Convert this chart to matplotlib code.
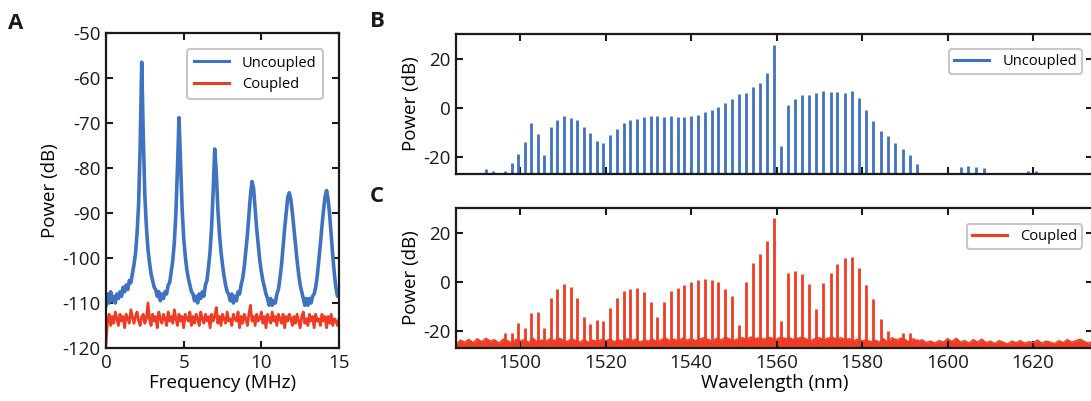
import numpy as np
import matplotlib
matplotlib.use("Agg")
import matplotlib.pyplot as plt
from matplotlib.lines import Line2D

plt.rcParams['font.family'] = ['Open Sans', 'DejaVu Sans']
plt.rcParams['axes.unicode_minus'] = False

BLUE = '#3F72C0'
RED = '#F03C24'

# ---------------- Panel A data (RF spectrum) ----------------
freq_a = [round(0.1 * i, 1) for i in range(151)]
uncoupled_a = [
    -110.5, -108.0, -110.0, -107.5, -109.5, -108.5, -110.0, -108.0, -109.0, -107.5,
    -108.5, -106.5, -107.5, -106.0, -107.0, -105.0, -105.5, -103.5, -101.5, -99.0,
    -94.5, -88.0, -75.0, -56.5, -73.0, -86.0, -93.0, -98.0, -101.0, -103.5,
    -105.0, -106.5, -107.0, -108.5, -107.5, -109.5, -108.0, -109.0, -107.5, -108.0,
    -106.0, -105.5, -103.0, -100.5, -96.5, -90.0, -80.0, -68.8, -79.0, -89.0,
    -95.5, -99.5, -102.5, -104.5, -106.0, -107.5, -108.0, -109.5, -108.5, -110.0,
    -108.0, -109.0, -107.5, -108.5, -106.0, -105.0, -102.0, -98.5, -93.0, -85.0,
    -75.8, -81.0, -89.0, -94.5, -98.5, -101.5, -104.0, -106.0, -107.5, -108.0,
    -109.5, -108.0, -110.0, -108.5, -109.5, -107.5, -108.0, -106.0, -104.5, -102.0,
    -98.5, -95.0, -90.5, -86.0, -83.0, -84.5, -89.0, -93.5, -97.0, -100.5,
    -103.0, -105.0, -106.5, -108.0, -109.0, -110.5, -109.0, -110.5, -109.5, -110.0,
    -108.0, -107.0, -104.5, -101.5, -97.5, -93.5, -90.0, -86.5, -85.5, -87.0,
    -90.0, -93.5, -97.0, -100.5, -103.5, -106.0, -107.5, -109.0, -110.5, -109.0,
    -110.5, -109.0, -110.0, -108.5, -108.0, -106.5, -104.0, -100.5, -97.0, -93.0,
    -89.5, -86.5, -85.0, -87.0, -90.5, -95.0, -99.5, -103.5, -106.5, -108.5,
    -108.0,
]
coupled_a = [
    -119.0, -114.0, -112.5, -115.0, -113.0, -114.5, -112.0, -113.5, -115.0, -112.5,
    -114.0, -113.0, -115.5, -112.5, -113.5, -114.5, -111.5, -113.0, -114.5, -113.0,
    -112.0, -114.0, -115.0, -113.0, -112.5, -114.5, -113.5, -110.0, -113.5, -115.0,
    -112.5, -114.0, -113.0, -115.5, -112.0, -113.5, -114.5, -112.5, -113.5, -115.0,
    -112.0, -114.0, -113.0, -114.5, -111.5, -113.5, -115.0, -112.5, -114.0, -113.0,
    -115.5, -112.5, -113.5, -114.0, -112.0, -115.0, -113.0, -114.5, -112.5, -113.5,
    -115.0, -112.0, -113.5, -114.5, -112.5, -114.0, -113.0, -115.5, -112.5, -114.0,
    -113.0, -111.0, -114.5, -113.0, -115.0, -112.5, -113.5, -114.5, -112.0, -114.0,
    -113.5, -115.0, -112.5, -113.5, -114.0, -112.0, -115.5, -113.0, -114.5, -112.5,
    -113.5, -115.0, -112.5, -110.5, -114.0, -113.0, -115.0, -112.5, -114.0, -113.5,
    -112.0, -114.5, -113.0, -115.5, -112.5, -113.5, -114.5, -112.0, -114.0, -113.0,
    -115.0, -112.5, -113.5, -114.5, -112.5, -115.5, -113.0, -114.0, -112.5, -113.5,
    -115.0, -113.0, -114.5, -112.5, -114.0, -115.5, -113.0, -112.0, -114.5, -113.5,
    -115.0, -112.5, -114.0, -113.0, -115.5, -112.5, -114.0, -113.5, -115.0, -112.5,
    -114.0, -113.0, -115.5, -113.0, -114.5, -112.5, -115.0, -113.5, -114.0, -115.0,
    -113.5,
]

# ---------------- Panel B data (uncoupled optical spectrum) ----------------
wl_unc = [
    1490.6, 1492.1, 1493.6, 1496.5, 1498.1, 1499.6, 1501.1, 1502.6, 1504.2, 1505.7,
    1507.2, 1508.7, 1510.3, 1511.8, 1513.4, 1514.9, 1516.4, 1518.0, 1519.5, 1521.1,
    1522.7, 1524.2, 1525.8, 1527.3, 1528.9, 1530.5, 1532.1, 1533.7, 1535.2, 1536.9,
    1538.4, 1540.0, 1541.6, 1543.2, 1544.8, 1546.4, 1548.0, 1549.6, 1551.2, 1552.9,
    1554.5, 1556.2, 1557.7, 1559.4, 1561.0, 1562.7, 1564.3, 1565.9, 1567.6, 1569.3,
    1570.9, 1572.6, 1574.2, 1575.9, 1577.6, 1579.3, 1581.0, 1582.6, 1584.3, 1586.1,
    1587.8, 1589.5, 1591.2, 1592.8, 1601.4, 1603.2, 1604.8, 1606.6, 1608.4, 1618.9,
    1620.7,
]
p_unc = [
    -26.4, -24.8, -25.6, -25.9, -22.5, -18.9, -13.9, -6.3, -10.8, -19.1,
    -7.8, -4.9, -3.5, -4.2, -5.1, -7.8, -10.5, -13.6, -14.4, -11.1,
    -8.6, -6.2, -5.1, -4.6, -3.8, -3.5, -3.4, -3.8, -3.5, -3.6,
    -3.8, -3.3, -2.8, -1.8, -1.0, 0.4, 2.0, 3.5, 5.4, 6.1,
    8.3, 10.2, 14.3, 25.6, -15.5, 0.9, 3.6, 5.0, 5.2, 5.9,
    6.7, 6.3, 6.3, 6.1, 6.7, 3.8, -0.8, -5.4, -9.4, -11.6,
    -14.2, -16.7, -19.1, -23.0, -26.5, -24.3, -23.9, -24.0, -24.7, -25.6,
    -25.9,
]

# ---------------- Panel C data (coupled optical spectrum) ----------------
wl_cpl = [
    1496.5, 1498.1, 1499.6, 1501.1, 1502.6, 1504.2, 1505.7, 1507.2, 1508.7, 1510.3,
    1511.8, 1513.4, 1514.9, 1516.4, 1518.0, 1519.5, 1521.1, 1522.7, 1524.2, 1525.8,
    1527.3, 1528.9, 1530.5, 1532.1, 1533.7, 1535.3, 1536.9, 1538.4, 1540.0, 1541.6,
    1543.2, 1544.8, 1546.4, 1548.0, 1549.6, 1551.2, 1552.9, 1554.5, 1556.2, 1557.7,
    1559.4, 1561.0, 1562.7, 1564.3, 1565.9, 1567.6, 1569.3, 1570.9, 1572.6, 1574.2,
    1575.9, 1577.6, 1579.3, 1581.0, 1582.6, 1584.3, 1586.1, 1587.8, 1589.5, 1591.2,
    1592.8,
]
p_cpl = [
    -20.9, -20.9, -16.7, -18.9, -12.6, -12.2, -18.9, -6.5, -3.1, -1.1,
    -2.2, -6.7, -14.5, -17.1, -15.6, -16.0, -10.6, -6.8, -3.8, -2.8,
    -2.6, -4.3, -8.3, -14.5, -8.3, -3.8, -2.4, -1.2, -0.1, 0.7,
    1.1, 0.7, -0.1, -2.8, -5.7, -17.6, 0.0, 7.7, 11.4, 16.7,
    26.0, -16.1, 3.4, 4.3, 3.1, -0.8, -11.1, -0.6, 3.5, 7.2,
    9.5, 10.0, 5.4, -1.2, -7.1, -15.0, -20.1, -22.8, -20.7, -20.9,
    -23.5,
]
floor_wl = list(range(1485, 1635))
floor_cpl = [
    -25.5, -23.8, -24.6, -23.5, -24.8, -23.2, -24.5, -23.0, -24.2, -23.6, -25.0, -23.4, -24.0, -24.8, -23.5,
    -24.2, -23.5, -24.8, -23.0, -24.5, -23.8, -24.2, -23.3, -24.0, -23.0, -23.6, -24.5, -23.2, -24.0, -24.6, -23.5, -24.8, -23.8, -24.4, -23.6,
    -24.0, -23.4, -24.5, -23.6, -24.2, -23.2, -24.0, -23.5, -24.6, -23.8, -24.2, -23.4, -24.5, -23.6, -23.0, -24.0, -23.4, -24.2, -23.0, -23.8,
    -23.2, -24.0, -23.4, -22.8, -23.6, -24.2, -23.0, -23.8, -22.6, -23.4, -24.0, -23.2, -22.8, -23.6, -22.5, -23.2, -22.8, -23.5, -22.6, -23.0,
    -23.4, -22.5, -23.2, -22.8, -23.6, -23.0, -22.6, -23.4, -24.0, -23.2, -22.8, -23.6, -23.0, -22.6, -23.4, -22.8, -23.6, -23.2, -24.0, -23.4,
    -24.2, -23.6, -24.5, -23.8, -24.6, -23.2, -24.8, -22.8, -24.0, -23.0, -23.5, -24.6, -23.2, -24.4, -23.6, -24.8, -24.2, -25.0, -24.0, -24.6,
    -23.2, -24.4, -23.0, -24.6, -24.0, -25.0, -23.6, -24.6, -23.4, -24.8, -24.2, -25.2, -24.0, -24.6, -25.4, -24.2, -24.8, -24.0, -25.0, -24.4,
    -24.8, -23.8, -25.0, -24.2, -24.6, -25.2, -24.0, -24.8, -23.6, -24.6, -24.0, -23.4, -24.4, -25.0, -24.2,
]

a_xticks = [0, 5, 10, 15]
a_yticks = [-120, -110, -100, -90, -80, -70, -60, -50]
bc_xticks = [1500, 1520, 1540, 1560, 1580, 1600, 1620]
bc_yticks = [-20, 0, 20]

# ---------------- Figure ----------------
W, H = 1091, 401
fig = plt.figure(figsize=(W / 100, H / 100), dpi=100)

def px_axes(l, t, r, b):
    return fig.add_axes([l / W, 1 - b / H, (r - l) / W, (b - t) / H])

axA = px_axes(106, 33, 339, 348)
axB = px_axes(456, 34, 1093, 174)
axC = px_axes(456, 208, 1093, 348)

TICK_FS = 13.5
for ax in (axA, axB, axC):
    for s in ax.spines.values():
        s.set_linewidth(1.6)
        s.set_color('#1a1a1a')
    ax.tick_params(direction='in', length=5, width=1.5, top=True, right=True,
                   labelsize=TICK_FS, colors='#1a1a1a', pad=4)

def style_legend(leg):
    leg.get_frame().set_edgecolor('#c8c8c8')
    leg.get_frame().set_linewidth(1.5)

# Panel A
axA.plot(freq_a, uncoupled_a, color=BLUE, lw=2.6, label='Uncoupled')
axA.plot(freq_a, coupled_a, color=RED, lw=2.0, label='Coupled')
axA.set_xlim(0, 15)
axA.set_ylim(-120, -50)
axA.set_xticks(a_xticks)
axA.set_yticks(a_yticks)
axA.set_xlabel('Frequency (MHz)', fontsize=TICK_FS, labelpad=2)
axA.set_ylabel('Power (dB)', fontsize=TICK_FS, labelpad=2)
legA = axA.legend(loc='upper right', bbox_to_anchor=((323 - 106) / 233, (348 - 49) / 315),
                  borderaxespad=0, fontsize=10.5,
                  handlelength=2.4, handletextpad=0.9, borderpad=0.45,
                  labelspacing=0.45, fancybox=True, framealpha=1)
style_legend(legA)
for l in legA.get_lines():
    l.set_linewidth(2.2)

# Panel B
axB.vlines(wl_unc, -40, p_unc, color=BLUE, lw=2.0)
axB.set_xlim(1485, 1634)
axB.set_ylim(-27, 30)
axB.set_xticks(bc_xticks)
axB.set_yticks(bc_yticks)
axB.tick_params(labelbottom=False)
axB.set_ylabel('Power (dB)', fontsize=TICK_FS, labelpad=2)
legB = axB.legend(handles=[Line2D([], [], color=BLUE, lw=2.2)], labels=['Uncoupled'],
                  loc='upper right', bbox_to_anchor=((1082 - 456) / 637, (174 - 49) / 140),
                  borderaxespad=0, fontsize=10.5,
                  handlelength=2.4, handletextpad=0.9, borderpad=0.35,
                  fancybox=True, framealpha=1)
style_legend(legB)

# Panel C
axC.fill_between(floor_wl, -40, floor_cpl, color=RED, lw=0)
axC.plot(floor_wl, floor_cpl, color=RED, lw=1.0)
axC.vlines(wl_cpl, -40, p_cpl, color=RED, lw=2.0)
axC.set_xlim(1485, 1634)
axC.set_ylim(-27, 30)
axC.set_xticks(bc_xticks)
axC.set_yticks(bc_yticks)
axC.set_xlabel('Wavelength (nm)', fontsize=TICK_FS, labelpad=2)
axC.set_ylabel('Power (dB)', fontsize=TICK_FS, labelpad=2)
legC = axC.legend(handles=[Line2D([], [], color=RED, lw=2.2)], labels=['Coupled'],
                  loc='upper right', bbox_to_anchor=((1082 - 456) / 637, (348 - 224) / 140),
                  borderaxespad=0, fontsize=10.5,
                  handlelength=2.4, handletextpad=0.9, borderpad=0.35,
                  fancybox=True, framealpha=1)
style_legend(legC)

# Panel letters
for txt, x, y in (('A', 8, 29), ('B', 370, 27), ('C', 370, 202)):
    fig.text(x / W, 1 - y / H, txt, fontsize=16, fontweight='bold',
             ha='left', va='baseline', color='#1a1a1a')

fig.savefig('out.png', dpi=100)
